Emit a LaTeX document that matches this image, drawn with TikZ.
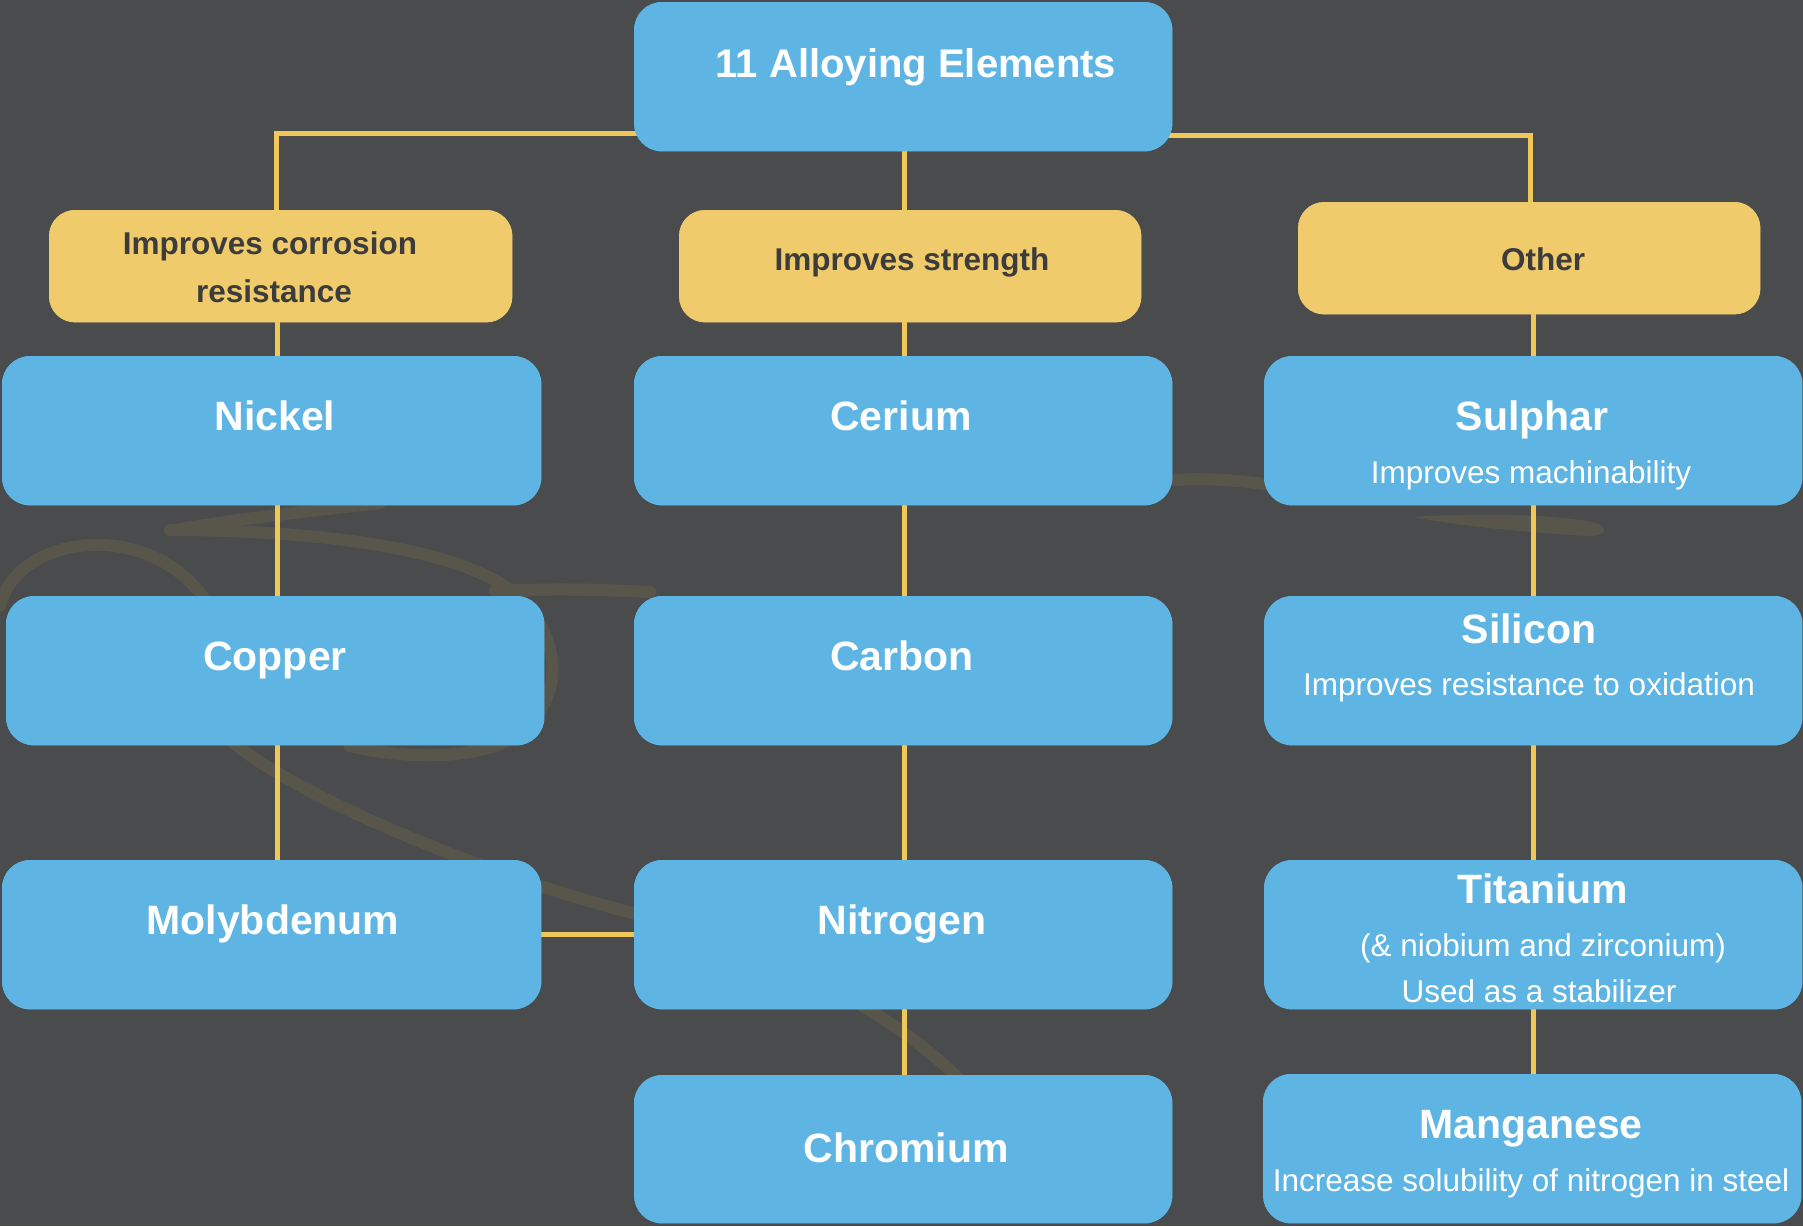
\documentclass[tikz,border=0pt]{standalone}
\usepackage{fontspec}
\setmainfont{Liberation Sans}
\definecolor{bgc}{HTML}{4A4B4D}
\definecolor{boxblue}{HTML}{5EB5E3}
\definecolor{boxyel}{HTML}{EFCB6B}
\definecolor{lineyel}{HTML}{F0C85A}
\definecolor{darktxt}{HTML}{3C3C3C}
\definecolor{swirlc}{HTML}{58564B}
\begin{document}
\begin{tikzpicture}[x=1pt,y=-1pt,
  bluebox/.style={fill=boxblue, rounded corners=28pt, inner sep=0pt, anchor=north west, minimum width=538pt, minimum height=149pt},
  yelbox/.style={fill=boxyel, rounded corners=26pt, inner sep=0pt, anchor=north west, minimum width=462pt, minimum height=112pt},
  conn/.style={draw=lineyel, line width=5pt},
  swirlline/.style={draw=swirlc, line width=12pt, line cap=round},
  titletxt/.style={text=white, font=\fontsize{40}{48}\selectfont\bfseries, anchor=base, inner sep=0pt},
  nametxt/.style={text=white, font=\fontsize{41}{49}\selectfont\bfseries, anchor=base, inner sep=0pt},
  desctxt/.style={text=white, font=\fontsize{31.5}{38}\selectfont, anchor=base, inner sep=0pt},
  cattxt/.style={text=darktxt, font=\fontsize{31.5}{38}\selectfont\bfseries, anchor=base, inner sep=0pt}
]
\useasboundingbox (0,0) rectangle (1803,1226);
\fill[bgc] (0,0) rectangle (1803,1226);

% faint background swirl
\draw[swirlline] (0,606) .. controls (10,565) and (55,543) .. (105,545) .. controls (150,548) and (185,570) .. (205,600);
\draw[swirlline] (380,503) .. controls (300,512) and (230,520) .. (175,530);
\draw[swirlline] (170,530) .. controls (300,530) and (450,545) .. (510,590) .. controls (565,635) and (570,705) .. (505,742) .. controls (465,760) and (400,758) .. (350,746);
\draw[swirlline] (495,591) .. controls (560,588) and (610,590) .. (650,592);
\draw[swirlline] (230,740) .. controls (300,800) and (500,880) .. (640,915) .. controls (800,960) and (900,1020) .. (960,1080);
\draw[swirlline] (1175,480) .. controls (1200,478) and (1240,480) .. (1270,485);
\fill[swirlc] (1413,517) .. controls (1500,511) and (1580,517) .. (1598,524) .. controls (1610,530) and (1602,536) .. (1590,536) .. controls (1530,533) and (1460,526) .. (1413,517) -- cycle;

% column coordinates
\coordinate (c1) at (277,0);
\coordinate (c2) at (904,0);
\coordinate (c3) at (1533,0);
\coordinate (lx) at (276,133);
\coordinate (rx) at (1530,135);
\coordinate (mn) at (0,934);

% boxes (named)
\path (634,2) node[bluebox, minimum width=538pt] (top) {};
\path (49,210) node[yelbox, minimum width=463pt] (ycorr) {};
\path (679,210) node[yelbox] (ystr) {};
\path (1298,202) node[yelbox] (yoth) {};
\path (2,356) node[bluebox, minimum width=539pt] (nickel) {};
\path (634,356) node[bluebox] (cerium) {};
\path (1264,356) node[bluebox] (sulphar) {};
\path (6,596) node[bluebox] (copper) {};
\path (634,596) node[bluebox] (carbon) {};
\path (1264,596) node[bluebox] (silicon) {};
\path (2,860) node[bluebox, minimum width=539pt] (moly) {};
\path (634,860) node[bluebox] (nitrogen) {};
\path (1264,860) node[bluebox] (titanium) {};
\path (634,1075) node[bluebox, minimum height=148pt] (chromium) {};
\path (1263,1074) node[bluebox] (manganese) {};

% connectors
\draw[conn] (top.center |- lx) -- (lx) -- (ycorr.center -| lx);
\draw[conn] (top.center |- rx) -- (rx) -- (yoth.center -| rx);
\draw[conn] (top.center -| c2) -- (ystr.center -| c2);
\draw[conn] (ycorr.center -| c1) -- (nickel.center -| c1);
\draw[conn] (nickel.center -| c1) -- (copper.center -| c1);
\draw[conn] (copper.center -| c1) -- (moly.center -| c1);
\draw[conn] (ystr.center -| c2) -- (cerium.center -| c2);
\draw[conn] (cerium.center -| c2) -- (carbon.center -| c2);
\draw[conn] (carbon.center -| c2) -- (nitrogen.center -| c2);
\draw[conn] (nitrogen.center -| c2) -- (chromium.center -| c2);
\draw[conn] (yoth.center -| c3) -- (sulphar.center -| c3);
\draw[conn] (sulphar.center -| c3) -- (silicon.center -| c3);
\draw[conn] (silicon.center -| c3) -- (titanium.center -| c3);
\draw[conn] (titanium.center -| c3) -- (manganese.center -| c3);
\draw[conn] (moly.center |- mn) -- (nitrogen.center |- mn);

% redraw boxes on top of connectors
\foreach \n in {top,nickel,cerium,sulphar,copper,carbon,silicon,moly,nitrogen,titanium,chromium,manganese}{
  \fill[boxblue, rounded corners=28pt] (\n.north west) rectangle (\n.south east);
}
\foreach \n in {ycorr,ystr,yoth}{
  \fill[boxyel, rounded corners=26pt] (\n.north west) rectangle (\n.south east);
}

% texts
\node[titletxt] (ttop) at (916,77) {11 Alloying Elements};
\node[cattxt] (tcorr1) at (270,254) {Improves corrosion};
\node[cattxt] (tcorr2) at (274,302) {resistance};
\node[cattxt] (tstr) at (912,270) {Improves strength};
\node[cattxt] (toth) at (1543,270) {Other};

\node[nametxt] (tnickel) at (275,430) {Nickel};
\node[nametxt] (tcopper) at (275,670) {Copper};
\node[nametxt] (tmoly) at (273,934) {Molybdenum};

\node[nametxt] (tcerium) at (901,430) {Cerium};
\node[nametxt] (tcarbon) at (902,670) {Carbon};
\node[nametxt] (tnitrogen) at (902,934) {Nitrogen};
\node[nametxt] (tchromium) at (906,1162) {Chromium};

\node[nametxt] (tsulphar) at (1532,430) {Sulphar};
\node[desctxt] (dsulphar) at (1531,483) {Improves machinability};
\node[nametxt] (tsilicon) at (1529,643) {Silicon};
\node[desctxt] (dsilicon) at (1529,695) {Improves resistance to oxidation};
\node[nametxt] (ttitanium) at (1543,903) {Titanium};
\node[desctxt] (dtitanium1) at (1543,956) {(\& niobium and zirconium)};
\node[desctxt] (dtitanium2) at (1539,1002) {Used as a stabilizer};
\node[nametxt] (tmanganese) at (1531,1138) {Manganese};
\node[desctxt] (dmanganese) at (1531,1191) {Increase solubility of nitrogen in steel};
\end{tikzpicture}
\end{document}
